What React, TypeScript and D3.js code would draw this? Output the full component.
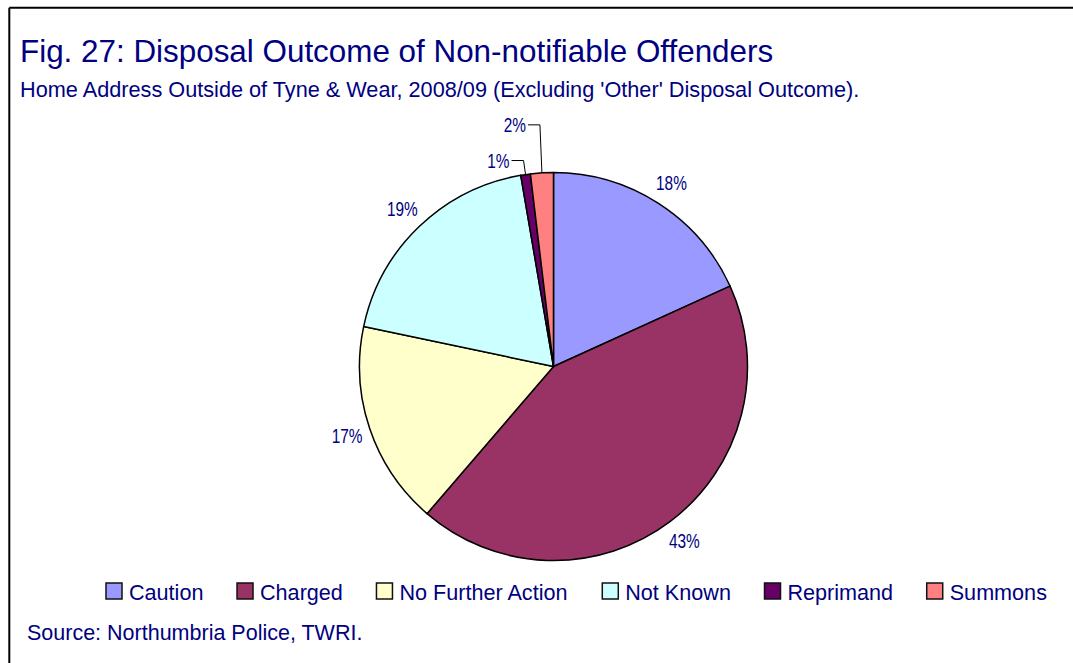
import React from "react";
import * as d3 from "d3";

const categories = ["Caution", "Charged", "No Further Action", "Not Known", "Reprimand", "Summons"];
const shares = [18.2, 43.1, 17.0, 19.0, 0.8, 1.9];
const colors = ["#9999FF", "#993366", "#FFFFCC", "#CCFFFF", "#660066", "#FF8080"];
const title = "Fig. 27: Disposal Outcome of Non-notifiable Offenders";
const subtitle = "Home Address Outside of Tyne & Wear, 2008/09 (Excluding 'Other' Disposal Outcome).";
const source = "Source: Northumbria Police, TWRI.";

const W = 1073;
const H = 663;
const NAVY = "#000080";
const FONT = "'Liberation Sans', Arial, Helvetica, sans-serif";

function measure(text: string, size: number): number {
  const c = document.createElement("canvas");
  const ctx = c.getContext("2d");
  if (!ctx) return text.length * size * 0.5;
  ctx.font = `${size}px 'Liberation Sans', Arial`;
  return ctx.measureText(text).width;
}

export default function App() {
  const cx = 553.5;
  const cy = 366.5;
  const r = 194;
  const pie = d3.pie<number>().sort(null).value((d) => d);
  const arcs = pie(shares);
  const arcGen = d3.arc<d3.PieArcDatum<number>>().innerRadius(0).outerRadius(r);
  const labelArc = d3.arc<d3.PieArcDatum<number>>().innerRadius(r + 24).outerRadius(r + 24);
  const edgeArc = d3.arc<d3.PieArcDatum<number>>().innerRadius(r).outerRadius(r);
  const lifts: Record<number, number> = { 4: 14, 5: 48 };

  const legendSize = 21.6;
  let lx = 106;
  const legendItems = categories.map((c, i) => {
    const x = lx;
    const tw = measure(c, legendSize);
    lx += 17 + 6 + tw + 33.6;
    return { c, i, x };
  });

  return (
    <svg width={W} height={H} style={{ position: "absolute", left: 0, top: 0, display: "block" }} fontFamily={FONT}>
      <rect x={0} y={0} width={W} height={H} fill="#ffffff" />
      <line x1={9.3} y1={7.7} x2={W} y2={7.7} stroke="#000" strokeWidth={2} />
      <line x1={9.3} y1={7.7} x2={9.3} y2={H} stroke="#000" strokeWidth={2} />
      <text x={20} y={62} fontSize={31.4} fill={NAVY}>{title}</text>
      <text x={20} y={97} fontSize={21.7} fill={NAVY}>{subtitle}</text>
      <g transform={`translate(${cx},${cy})`}>
        {arcs.map((a, i) => (
          <path key={i} d={arcGen(a) || ""} fill={colors[i]} stroke="#000" strokeWidth={1.5} strokeLinejoin="round" />
        ))}
        {arcs.map((a, i) => {
          const label = `${Math.round(shares[i])}%`;
          if (lifts[i] !== undefined) {
            const [ex, ey] = edgeArc.centroid(a);
            const elbowX = ex - 2;
            const elbowY = ey - lifts[i];
            const endX = elbowX - 12;
            return (
              <g key={i}>
                <polyline points={`${ex},${ey} ${elbowX},${elbowY} ${endX},${elbowY}`} fill="none" stroke="#000" strokeWidth={1} />
                <text transform={`translate(${endX - 2},${elbowY + 7}) scale(0.77,1)`} textAnchor="end" fontSize={20} fill={NAVY}>{label}</text>
              </g>
            );
          }
          const [lx2, ly2] = labelArc.centroid(a);
          return (
            <text key={i} transform={`translate(${lx2},${ly2 + 7}) scale(0.77,1)`} textAnchor="middle" fontSize={20} fill={NAVY}>{label}</text>
          );
        })}
      </g>
      {legendItems.map(({ c, i, x }) => (
        <g key={c}>
          <rect x={x} y={583} width={16} height={16} fill={colors[i]} stroke="#111" strokeWidth={1.5} />
          <text x={x + 23} y={600} fontSize={legendSize} fill={NAVY}>{c}</text>
        </g>
      ))}
      <text x={27} y={640} fontSize={21.5} fill={NAVY}>{source}</text>
    </svg>
  );
}
